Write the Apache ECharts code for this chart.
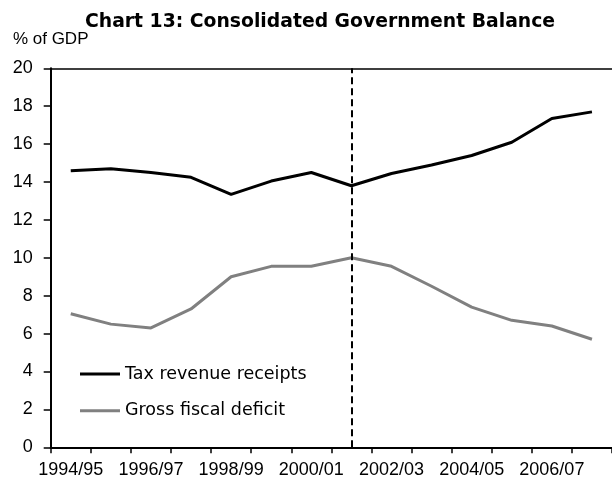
<!DOCTYPE html>
<html>
<head>
<meta charset="utf-8">
<script src="https://cdn.jsdelivr.net/npm/echarts@6/dist/echarts.min.js"></script>
<style>
html,body{margin:0;padding:0;background:#fff;}
#chart{width:612px;height:478px;}
</style>
</head>
<body>
<div id="chart"></div>
<script>
var categories = ['1994/95','1995/96','1996/97','1997/98','1998/99','1999/00','2000/01','2001/02','2002/03','2003/04','2004/05','2005/06','2006/07','2007/08'];
var taxRevenue = [14.6, 14.7, 14.5, 14.25, 13.35, 14.05, 14.5, 13.8, 14.45, 14.9, 15.4, 16.1, 17.35, 17.7];
var grossFiscalDeficit = [7.05, 6.5, 6.3, 7.3, 9.0, 9.55, 9.55, 10.0, 9.55, 8.5, 7.4, 6.7, 6.4, 5.7];
var dividerYear = '2001/02';
var titleText = 'Chart 13: Consolidated Government Balance';
var yAxisName = '% of GDP';
var seriesNames = ['Tax revenue receipts', 'Gross fiscal deficit'];

var chart = echarts.init(document.getElementById('chart'), null, {renderer: 'canvas'});
var axisFont = 'Liberation Sans';
chart.setOption({
  animation: false,
  backgroundColor: '#ffffff',
  title: {
    text: titleText,
    left: 85,
    top: 13,
    padding: 0,
    textStyle: {fontFamily: 'DejaVu Sans', fontWeight: 'bold', fontSize: 18.8, color: '#000'}
  },
  legend: {
    orient: 'vertical',
    left: 80,
    top: 364,
    padding: 0,
    itemWidth: 40,
    itemHeight: 3,
    itemGap: 16.7,
    icon: 'rect',
    data: seriesNames,
    textStyle: {fontFamily: 'DejaVu Sans', fontSize: 17.5, color: '#000', lineHeight: 20}
  },
  grid: {left: 50.7, right: 0, top: 68.3, bottom: 30.7, containLabel: false, outerBoundsMode: 'none'},
  xAxis: [{
    type: 'category',
    data: categories,
    boundaryGap: true,
    axisLine: {lineStyle: {color: '#000', width: 2}},
    axisTick: {show: true, interval: 0, length: 6, lineStyle: {color: '#000', width: 1.5}},
    axisLabel: {interval: 1, margin: 14, fontFamily: axisFont, fontSize: 18, color: '#000'},
    splitLine: {show: false}
  }, {
    type: 'category',
    data: categories,
    position: 'top',
    axisLine: {lineStyle: {color: '#000', width: 1.5}},
    axisTick: {show: false},
    axisLabel: {show: false},
    splitLine: {show: false}
  }],
  yAxis: {
    type: 'value',
    min: 0,
    max: 20,
    interval: 2,
    name: yAxisName,
    nameLocation: 'end',
    nameGap: 20,
    nameTextStyle: {fontFamily: axisFont, fontSize: 17, color: '#000'},
    axisLine: {show: true, lineStyle: {color: '#000', width: 2}},
    axisTick: {show: true, length: 7, lineStyle: {color: '#000', width: 1.5}},
    axisLabel: {margin: 18, fontFamily: axisFont, fontSize: 18, color: '#000'},
    splitLine: {show: false}
  },
  series: [{
    name: seriesNames[0],
    type: 'line',
    data: taxRevenue,
    symbol: 'none',
    color: '#000000',
    lineStyle: {color: '#000000', width: 3},
    markLine: {
      silent: true,
      symbol: 'none',
      label: {show: false},
      lineStyle: {color: '#000', width: 2, type: [7, 4]},
      data: [{xAxis: dividerYear}]
    }
  }, {
    name: seriesNames[1],
    type: 'line',
    data: grossFiscalDeficit,
    symbol: 'none',
    color: '#808080',
    lineStyle: {color: '#808080', width: 3}
  }]
});
</script>
</body>
</html>
